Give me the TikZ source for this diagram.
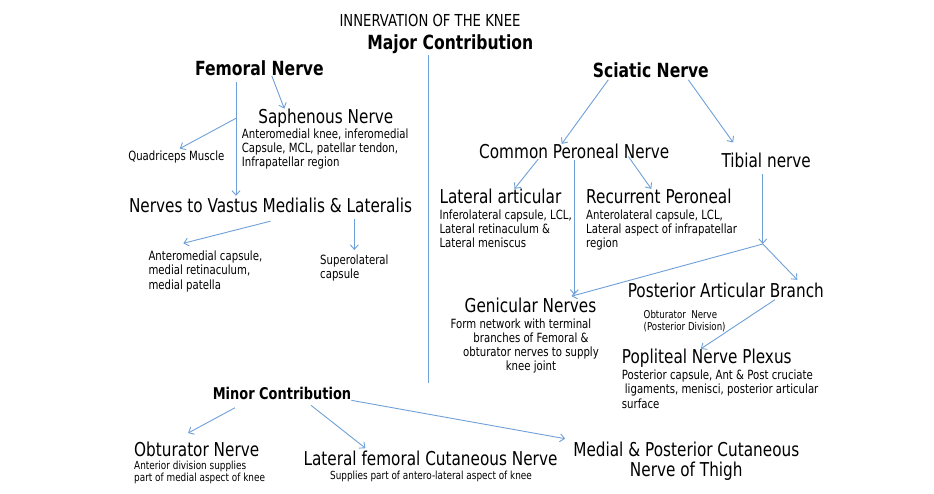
\documentclass[tikz,border=0pt]{standalone}
\usepackage{fontspec}
\setmainfont{DejaVu Sans}[FakeStretch=0.8]
\usepackage{xcolor}
\usetikzlibrary{arrows.meta}
\definecolor{linkc}{RGB}{110,160,215}

\begin{document}
\begin{tikzpicture}[x=1pt,y=-1pt,
  every node/.style={inner sep=0pt},
  link/.style={draw=linkc, line width=0.9pt, -{Straight Barb[length=4.5pt,width=8pt]}},
  ttl/.style={font=\fontsize{16.5}{18}\selectfont},
  head/.style={font=\bfseries\fontsize{19.5}{21}\selectfont},
  nerve/.style={font=\fontsize{19.1}{20}\selectfont},
  note/.style={font=\fontsize{12.7}{14.2}\selectfont, align=left},
  smallnote/.style={font=\fontsize{11.1}{12.3}\selectfont, align=left}]
  \useasboundingbox (0,0) rectangle (934,493);

  % titles and divider
  \node[ttl, anchor=base] (title) at (430,26.7) {INNERVATION OF THE KNEE};
  \node[head, anchor=base] (major) at (450.3,49.4) {Major Contribution};
  \draw[draw=linkc, line width=0.9pt] (428.3,55) -- (428.3,383.3);

  % femoral side
  \node[head, anchor=base] (femoral) at (259.4,75.4) {Femoral Nerve};
  \node[nerve, anchor=base] (saph) at (325.8,123.3) {Saphenous Nerve};
  \node[note, anchor=north west] (saphtxt) at (241.7,128.2) {Anteromedial knee, inferomedial\\Capsule, MCL, patellar tendon,\\Infrapatellar region};
  \node[note, anchor=base] (quad) at (176.3,160.3) {Quadriceps Muscle};
  \node[nerve, anchor=base] (vastus) at (270.5,212.9) {Nerves to Vastus Medialis \& Lateralis};
  \node[note, anchor=north west] (antmed) at (148.3,250.9) {Anteromedial capsule,\\medial retinaculum,\\medial patella};
  \node[note, anchor=north west, font=\fontsize{12.7}{13.3}\selectfont] (superolat) at (320,254.9) {Superolateral\\capsule};
  \coordinate (fq) at (236,118.3);
  \draw[link, shorten <=6.3pt, shorten >=2.4pt] (femoral.south -| fq) -- (vastus.north -| fq);
  \draw[link, shorten >=4pt] (fq) -- (quad.north);
  \draw[link] (femoral.-32) -- ([xshift=-41.5pt]saph.north);
  \draw[link] ([yshift=-7.8pt]vastus.south) -- ([xshift=35pt,yshift=7.6pt]antmed.north west);
  \draw[link, shorten <=5.4pt, shorten >=4.9pt] (vastus.south -| superolat.north) -- (superolat.north);

  % sciatic side
  \node[head, anchor=base] (sciatic) at (650.8,77.8) {Sciatic Nerve};
  \node[nerve, anchor=base] (cpn) at (574.3,158.6) {Common Peroneal Nerve};
  \node[nerve, anchor=base] (tibial) at (766.2,167.9) {Tibial nerve};
  \node[nerve, anchor=base west] (latart) at (439.3,203.6) {Lateral articular};
  \node[note, anchor=north west] (latarttxt) at (439.3,209.2) {Inferolateral capsule, LCL,\\Lateral retinaculum \&\\Lateral meniscus};
  \node[nerve, anchor=base west] (recper) at (586,203.6) {Recurrent Peroneal};
  \node[note, anchor=north west] (recpertxt) at (586,209.2) {Anterolateral capsule, LCL,\\Lateral aspect of infrapatellar\\region};
  \node[nerve, anchor=base] (genic) at (530.5,312.9) {Genicular Nerves};
  \node[note, anchor=north, align=center] (genictxt) at (531,318.2) {Form network with terminal\hspace*{20pt}\\branches of Femoral \&\\obturator nerves to supply\\knee joint};
  \node[nerve, anchor=base] (pab) at (725.8,297.9) {Posterior Articular Branch};
  \node[note, anchor=north west, font=\fontsize{10.8}{11.7}\selectfont] (obtpost) at (643.5,310) {Obturator\ \ Nerve\\(Posterior Division)};
  \node[nerve, anchor=base west] (popl) at (621.7,363.6) {Popliteal Nerve Plexus};
  \node[note, anchor=north west] (popltxt) at (621.7,369.9) {Posterior capsule, Ant \& Post cruciate\\\hspace*{3pt}ligaments, menisci, posterior articular\\surface};
  \coordinate (tibj) at (762.8,244);
  \draw[link] ([xshift=-42.5pt,yshift=-1.5pt]sciatic.south) -- ([xshift=-12.6pt]cpn.north);
  \draw[link] ([xshift=37.5pt,yshift=-1.5pt]sciatic.south) -- ([xshift=-33pt,yshift=10.7pt]tibial.north);
  \draw[link] ([xshift=-36pt]cpn.south) -- ([xshift=14pt]latart.north);
  \draw[link] ([xshift=54pt,yshift=2.6pt]cpn.south) -- ([xshift=-7.6pt]recper.north);
  \draw[link, shorten <=1.4pt, shorten >=3.4pt] (cpn.south) -- (cpn.south |- genic.north);
  \draw[link, shorten <=6pt] (tibial.south -| tibj) -- (tibj);
  \draw[link] (tibj) -- ([xshift=41pt,yshift=2pt]genic.north);
  \draw[link] (tibj) -- ([xshift=71.5pt,yshift=3.4pt]pab.north);
  \draw[link] ([xshift=49pt,yshift=-1.4pt]pab.south) -- ([xshift=-6pt]popl.north);

  % minor contribution
  \node[head, anchor=base, font=\bfseries\fontsize{16.2}{18}\selectfont] (minor) at (282,399.9) {Minor Contribution};
  \node[nerve, anchor=base west] (obt) at (134,456.2) {Obturator Nerve};
  \node[smallnote, anchor=north west] (obttxt) at (134,460.6) {Anterior division supplies\\part of medial aspect of knee};
  \node[nerve, anchor=base west] (lfcn) at (303.3,465.9) {Lateral femoral Cutaneous Nerve};
  \node[smallnote, anchor=base] (lfcntxt) at (431,479) {Supplies part of antero-lateral aspect of knee};
  \node[nerve, anchor=north, align=center] (mpcn) at (686.3,441.7) {Medial \& Posterior Cutaneous\\Nerve of Thigh};
  \draw[link] ([xshift=-47pt,yshift=-7.4pt]minor.south) -- ([xshift=-8.7pt,yshift=8.4pt]obt.north);
  \draw[link] ([xshift=29pt,yshift=-5pt]minor.south) -- ([xshift=-65pt,yshift=3pt]lfcn.north);
  \draw[link] (minor.south east) -- ([xshift=-8pt,yshift=3pt]mpcn.north west);
\end{tikzpicture}
\end{document}
